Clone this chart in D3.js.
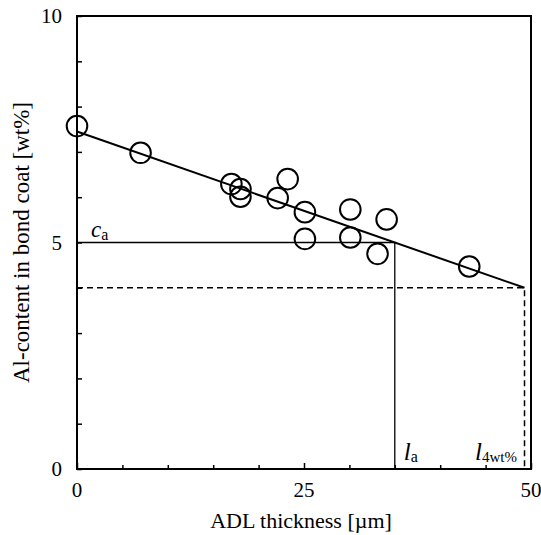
<!DOCTYPE html>
<html>
<head>
<meta charset="utf-8">
<script src="https://cdn.jsdelivr.net/npm/d3@7"></script>
<style>
  html, body { margin: 0; padding: 0; background: #fff; }
  svg { display: block; }
</style>
</head>
<body>
<svg id="chart" width="541" height="535" font-family="Liberation Serif, Times New Roman, serif"></svg>
<script>
// Measured ADL thickness [µm] and Al content [wt%]
const thickness = [0, 7.0, 17.0, 18.0, 18.0, 22.1, 23.2, 25.1, 25.1, 30.1, 30.1, 33.1, 34.1, 43.2];
const alContent = [7.57, 6.98, 6.29, 6.18, 6.01, 5.98, 6.40, 5.67, 5.08, 5.73, 5.11, 4.75, 5.51, 4.47];

// Linear fit: Al = intercept + slope * thickness
const fitIntercept = [7.45];
const fitSlope = [-0.07];

// Critical Al content and the 4 wt% limit
const criticalAl = [5];
const limitAl = [4];

const xTicks = [0, 5, 10, 15, 20, 25, 30, 35, 40, 45, 50];
const xTickLabels = [0, 25, 50];
const yTicks = [0, 1, 2, 3, 4, 5, 6, 7, 8, 9, 10];
const yTickLabels = [0, 5, 10];

const svg = d3.select("#chart");
const plotLeft = 77, plotRight = 531, plotTop = 16, plotBottom = 469;

const x = d3.scaleLinear().domain([0, 50]).range([plotLeft, plotRight]);
const y = d3.scaleLinear().domain([0, 10]).range([plotBottom, plotTop]);

const fit = t => fitIntercept[0] + fitSlope[0] * t;
const xAt = v => (v - fitIntercept[0]) / fitSlope[0];
const la = xAt(criticalAl[0]);
const l4 = xAt(limitAl[0]);

// Reference lines for c_a and l_a
svg.append("path")
  .attr("d", d3.line()([[x(0), y(criticalAl[0])], [x(la), y(criticalAl[0])], [x(la), y(0)]]))
  .attr("fill", "none").attr("stroke", "#000").attr("stroke-width", 1.3);

// Dashed lines for the 4 wt% limit
svg.append("path")
  .attr("d", d3.line()([[x(0), y(limitAl[0])], [x(l4), y(limitAl[0])], [x(l4), y(0)]]))
  .attr("fill", "none").attr("stroke", "#000").attr("stroke-width", 1.5)
  .attr("stroke-dasharray", "6,4");

// Fitted line
svg.append("line")
  .attr("x1", x(0)).attr("y1", y(fit(0)))
  .attr("x2", x(l4)).attr("y2", y(fit(l4)))
  .attr("stroke", "#000").attr("stroke-width", 2);

// Data points
svg.append("g").selectAll("circle")
  .data(thickness.map((t, i) => [t, alContent[i]]))
  .join("circle")
  .attr("cx", d => x(d[0])).attr("cy", d => y(d[1]))
  .attr("r", 10.3)
  .attr("fill", "none").attr("stroke", "#000").attr("stroke-width", 2);

// Frame
svg.append("rect")
  .attr("x", plotLeft).attr("y", plotTop)
  .attr("width", plotRight - plotLeft).attr("height", plotBottom - plotTop)
  .attr("fill", "none").attr("stroke", "#000").attr("stroke-width", 2);

// Inward ticks on the bottom axis
const xAxis = d3.axisTop(x).tickValues(xTicks).tickFormat("").tickSizeOuter(0).tickSizeInner(4);
const gx = svg.append("g").attr("transform", `translate(0,${plotBottom})`).call(xAxis);
gx.select(".domain").remove();
gx.selectAll(".tick line").attr("stroke-width", 1.5)
  .attr("y2", d => (d % 25 === 0 ? -6 : -4));

// Inward ticks on the left axis
const yAxis = d3.axisRight(y).tickValues(yTicks).tickFormat("").tickSizeOuter(0).tickSizeInner(5);
const gy = svg.append("g").attr("transform", `translate(${plotLeft},0)`).call(yAxis);
gy.select(".domain").remove();
gy.selectAll(".tick line").attr("stroke-width", 1.5);

// Tick labels
svg.append("g").selectAll("text")
  .data(xTickLabels).join("text")
  .attr("x", d => x(d)).attr("y", 497)
  .attr("text-anchor", "middle").attr("font-size", 21)
  .text(d => d);

svg.append("g").selectAll("text")
  .data(yTickLabels).join("text")
  .attr("x", 62).attr("y", d => y(d) + 7)
  .attr("text-anchor", "end").attr("font-size", 21)
  .text(d => d);

// Axis titles
svg.append("text")
  .attr("x", 301).attr("y", 528)
  .attr("text-anchor", "middle").attr("font-size", 22)
  .text("ADL thickness [µm]");

svg.append("text")
  .attr("transform", `translate(29,${(plotTop + plotBottom) / 2}) rotate(-90)`)
  .attr("text-anchor", "middle").attr("font-size", 23)
  .text("Al-content in bond coat [wt%]");

// Annotations
const ca = svg.append("text").attr("x", 91).attr("y", y(criticalAl[0]) - 6).attr("font-size", 23);
ca.append("tspan").attr("font-style", "italic").text("c");
ca.append("tspan").attr("font-size", 16).attr("dy", 3).text("a");

const laText = svg.append("text").attr("x", x(la) + 9).attr("y", 460).attr("font-size", 25);
laText.append("tspan").attr("font-style", "italic").text("l");
laText.append("tspan").attr("font-size", 16).attr("dy", 2).text("a");

const l4Text = svg.append("text").attr("x", 475).attr("y", 460).attr("font-size", 25);
l4Text.append("tspan").attr("font-style", "italic").text("l");
l4Text.append("tspan").attr("font-size", 15).attr("dy", 2).text("4wt%");
</script>
</body>
</html>
